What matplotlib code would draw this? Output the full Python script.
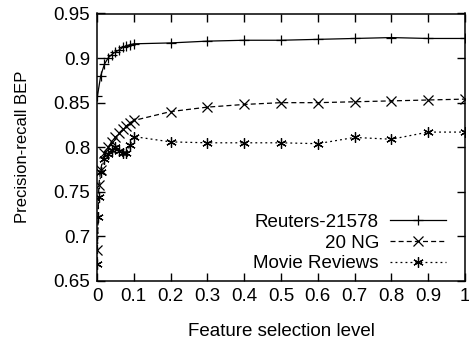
import matplotlib
matplotlib.use('Agg')
import matplotlib.pyplot as plt
from matplotlib.ticker import FixedLocator

plt.rcParams['font.family'] = ['Liberation Sans', 'DejaVu Sans']

# feature selection levels and BEP values
reuters_x = [0.001, 0.01, 0.02, 0.03, 0.04, 0.05, 0.06, 0.07, 0.08, 0.09,
             0.1, 0.2, 0.3, 0.4, 0.5, 0.6, 0.7, 0.8, 0.9, 1.0]
reuters_y = [0.857, 0.880, 0.893, 0.900, 0.904, 0.907, 0.909, 0.912, 0.914, 0.915,
             0.916, 0.917, 0.919, 0.920, 0.920, 0.921, 0.922, 0.923, 0.922, 0.922]

ng_x = [0.001, 0.005, 0.01, 0.02, 0.03, 0.04, 0.05, 0.06, 0.07, 0.08, 0.09,
        0.1, 0.2, 0.3, 0.4, 0.5, 0.6, 0.7, 0.8, 0.9, 1.0]
ng_y = [0.685, 0.758, 0.775, 0.794, 0.800, 0.806, 0.811, 0.816, 0.820, 0.824, 0.827,
        0.830, 0.840, 0.845, 0.848, 0.850, 0.850, 0.851, 0.852, 0.853, 0.854]

movie_x = [0.001, 0.003, 0.005, 0.01, 0.02, 0.03, 0.04, 0.05, 0.06, 0.07, 0.08, 0.09,
           0.1, 0.2, 0.3, 0.4, 0.5, 0.6, 0.7, 0.8, 0.9, 1.0]
movie_y = [0.669, 0.722, 0.744, 0.772, 0.787, 0.792, 0.797, 0.800, 0.796, 0.793, 0.794, 0.802,
           0.812, 0.806, 0.805, 0.805, 0.805, 0.804, 0.811, 0.809, 0.817, 0.817]

x_ticks = [0, 0.1, 0.2, 0.3, 0.4, 0.5, 0.6, 0.7, 0.8, 0.9, 1]
x_labels = ['0', '0.1', '0.2', '0.3', '0.4', '0.5', '0.6', '0.7', '0.8', '0.9', '1']
y_ticks = [0.65, 0.7, 0.75, 0.8, 0.85, 0.9, 0.95]
y_labels = ['0.65', '0.7', '0.75', '0.8', '0.85', '0.9', '0.95']

fs = 13.5

fig = plt.figure(figsize=(4.69, 3.42), dpi=100)
ax = fig.add_axes([97 / 469, 61 / 342, 368 / 469, 267.5 / 342])

ax.plot(reuters_x, reuters_y, color='black', lw=0.9, marker='+', ms=7.5, mew=0.9,
        label='Reuters-21578')
ax.plot(ng_x, ng_y, color='black', lw=0.9, marker='x', ms=6.5, mew=0.9,
        dashes=(4, 2.5), label='20 NG')
ax.plot(movie_x, movie_y, color='black', lw=0.9, marker=(6, 2, 0), ms=7.5, mew=0.9,
        dashes=(1.5, 2.5), label='Movie Reviews')

ax.set_xlim(0, 1)
ax.set_ylim(0.65, 0.95)
ax.xaxis.set_major_locator(FixedLocator(x_ticks))
ax.set_xticklabels(x_labels)
ax.yaxis.set_major_locator(FixedLocator(y_ticks))
ax.set_yticklabels(y_labels)
ax.tick_params(direction='in', length=6, width=1, top=True, right=True,
               labelsize=fs, pad=5)
for s in ax.spines.values():
    s.set_linewidth(1.1)

ax.set_xlabel('Feature selection level', fontsize=fs, labelpad=13)
ax.set_ylabel('Precision-recall BEP', fontsize=12, labelpad=17)

ax.legend(loc='lower right', frameon=False, markerfirst=False, fontsize=fs,
          handlelength=3.0, handletextpad=0.6, labelspacing=0.2,
          borderaxespad=0.2, bbox_to_anchor=(0.98, -0.01))
for t in ax.get_legend().get_texts():
    t.set_ha('right')

fig.savefig('out.png', dpi=100)
